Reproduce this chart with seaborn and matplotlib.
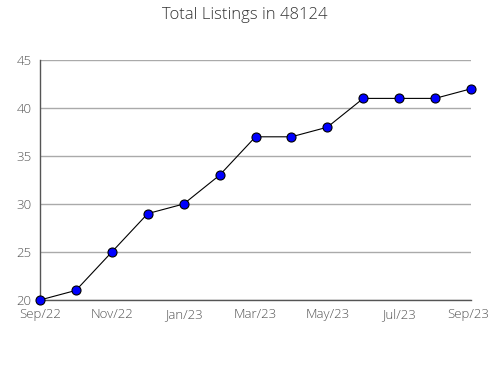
import matplotlib
matplotlib.use("Agg")
import matplotlib.pyplot as plt
import matplotlib.transforms as mtransforms
import seaborn as sns
import pandas as pd
from matplotlib.ticker import MultipleLocator

months = ["Sep/22", "Oct/22", "Nov/22", "Dec/22", "Jan/23", "Feb/23", "Mar/23",
          "Apr/23", "May/23", "Jun/23", "Jul/23", "Aug/23", "Sep/23"]
listings = [20, 21, 25, 29, 30, 33, 37, 37, 38, 41, 41, 41, 42]
tick_labels = ["Sep/22", "Nov/22", "Jan/23", "Mar/23", "May/23", "Jul/23", "Sep/23"]

sns.set_style("white")
plt.rcParams['font.family'] = ['Open Sans', 'DejaVu Sans']

df = pd.DataFrame({"idx": range(len(months)), "month": months, "value": listings})

fig = plt.figure(figsize=(4.9, 3.8), dpi=100)
ax = fig.add_axes([40/490, 1-300/380, (471-40)/490, (300-60)/380])

sns.lineplot(data=df, x="idx", y="value", ax=ax, color="black", linewidth=0.8,
             marker="o", markersize=6.5, markerfacecolor="#0000ff",
             markeredgecolor="black", markeredgewidth=0.8, zorder=3, clip_on=False)

ax.set_xlim(0, len(months)-1)
ax.set_ylim(20, 45)
ax.set_xticks(range(0, len(months), 2))
ax.set_xticklabels(tick_labels)
ax.xaxis.set_minor_locator(MultipleLocator(1))
ax.yaxis.set_major_locator(MultipleLocator(5))
ax.yaxis.set_minor_locator(MultipleLocator(1))
ax.grid(axis="y", which="major", color="#aaaaaa", linewidth=1)
ax.set_axisbelow(True)
for s in ["top", "right"]:
    ax.spines[s].set_visible(False)
for s in ["left", "bottom"]:
    ax.spines[s].set_color("#555555")
    ax.spines[s].set_linewidth(1)
ax.tick_params(axis="both", which="both", direction="out", color="#555555",
               labelcolor="#555555", labelsize=9.5, width=1)
ax.tick_params(axis="both", which="major", length=5, pad=1)
ax.tick_params(axis="both", which="minor", length=4)
for lbl in ax.get_xticklabels() + ax.get_yticklabels():
    lbl.set_fontweight("light")
last = ax.get_xticklabels()[-1]
last.set_transform(last.get_transform() + mtransforms.ScaledTranslation(-3/100, 0, fig.dpi_scale_trans))
ax.set_xlabel("")
ax.set_ylabel("")
fig.text(0.5, 1-15/380, "Total Listings in 48124", ha="center", va="center",
         fontsize=12, color="#333333", fontweight="light")

fig.savefig("out.png", dpi=100)
